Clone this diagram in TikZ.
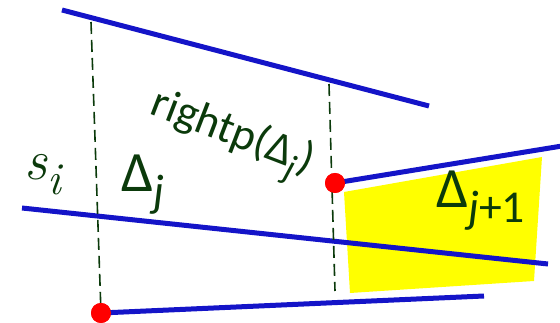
\documentclass[tikz,border=0pt]{standalone}
\usepackage{fontspec}
\setmainfont{Carlito}
\newfontfamily\lmfont{Latin Modern Roman}
\usepackage{tikz}
\usetikzlibrary{positioning}
\definecolor{SegBlue}{HTML}{1414C8}
\definecolor{LabelGreen}{HTML}{0B3A0B}
\definecolor{TrapYellow}{HTML}{FFFF00}
\newcommand{\lowsub}[1]{\raisebox{-.26em}{\scalebox{.8}{#1}}}

\tikzset{
  seg/.style={draw=SegBlue,line width=5pt},
  vline/.style={draw=LabelGreen,line width=1.6pt,dash pattern=on 12pt off 6pt},
  endpt/.style={circle,fill=red,inner sep=0pt,minimum size=20pt},
  lbl/.style={text=LabelGreen,inner sep=0pt,font=\fontsize{57}{62}\selectfont}
}

\begin{document}
\begin{tikzpicture}[x=1pt,y=-1pt]
\useasboundingbox (0,0) rectangle (560,323);
% trapezoid Delta_{j+1}
\fill[TrapYellow] (344,192) -- (542,157) -- (534,281) -- (350,293) -- cycle;
% segment end points
\node[endpt] (rp) at (335,183) {};
\node[endpt] (lp) at (101,313) {};
\coordinate (t1) at (62,10);
\coordinate (t2) at (429,106);
\coordinate (s1) at (22,208);
\coordinate (s2) at (548,264);
\coordinate (u2) at (562,146);
\coordinate (b2) at (484,296);
\coordinate (d1) at (91,22);
\coordinate (d2) at (329,84);
\coordinate (d3) at (335,291);
\draw[seg] (t1) -- (t2);
\draw[seg] (s1) -- (s2);
\draw[seg] (rp.center) -- (u2);
\draw[seg] (lp.center) -- (b2);
\draw[vline] (d1) -- (lp.center);
\draw[vline] (d2) -- (d3);
\node[endpt] at (rp) {};
\node[endpt] at (lp) {};
% labels
\node[lbl,anchor=base west] (si) at (24,180) {\lmfont\itshape s\lowsub{i}};
\node[lbl,anchor=base west] (dj) at (121,192) {Δ\lowsub{\textit{j}}};
\node[lbl,anchor=base west] (dj1) at (436,208) {Δ\lowsub{\textit{j}+1}};
\node[lbl,font=\fontsize{45}{50}\selectfont,rotate=-21] (rpj) at (231,137) {rightp(Δ\lowsub{\textit{j}})};
\end{tikzpicture}
\end{document}
